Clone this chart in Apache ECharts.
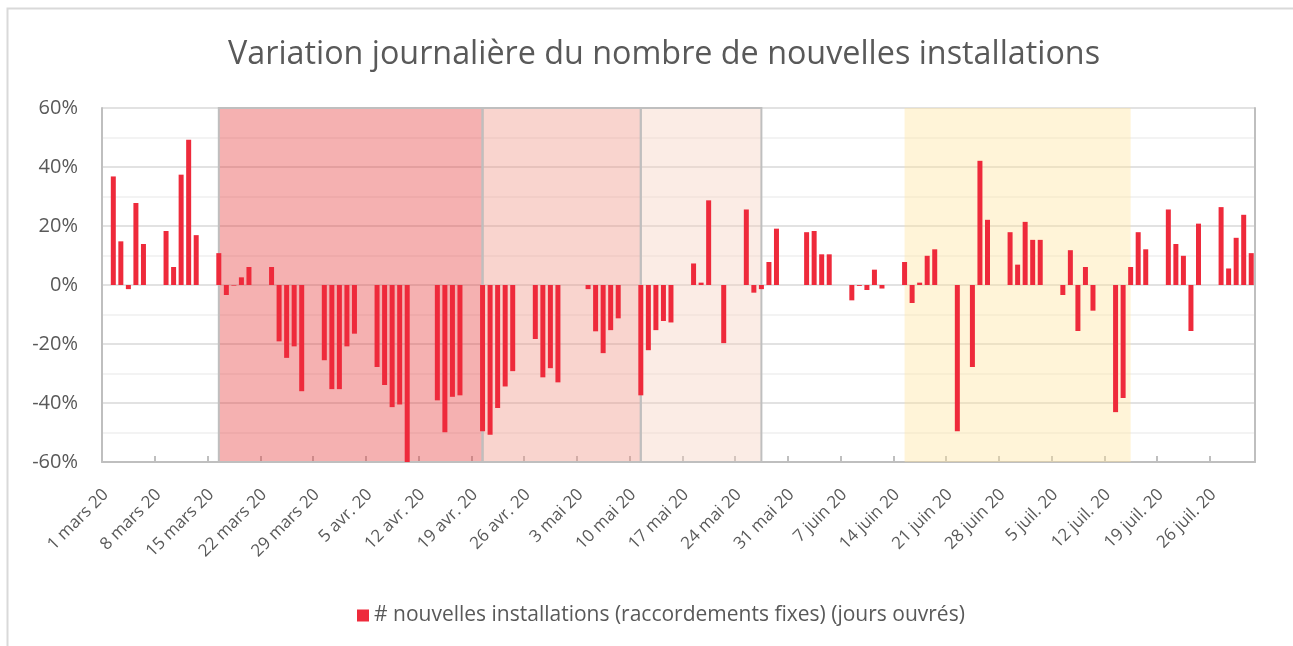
<!DOCTYPE html>
<html>
<head>
<meta charset="utf-8">
<script src="https://cdn.jsdelivr.net/npm/echarts@6/dist/echarts.min.js"></script>
<style>
html,body{margin:0;padding:0;background:#fff;}
#chart{width:1293px;height:646px;}
</style>
</head>
<body>
<div id="chart"></div>
<script>
// Months covered (1 mars 2020 -> 31 juil. 2020)
const monthNames = ['mars', 'avr.', 'mai', 'juin', 'juil.'];
const monthDays = [31, 30, 31, 30, 31];
const yearSuffix = '20';

// Daily variation (%), one row per week: [dim, lun, mar, mer, jeu, ven, sam]; null = no bar
const week01 = [null, 36.8, 14.8, -1.4, 27.8, 13.9, null];     // 1-7 mars
const week02 = [null, 18.3, 6.1, 37.4, 49.2, 16.9, null];      // 8-14 mars
const week03 = [null, 10.8, -3.4, -0.2, 2.6, 6.1, null];       // 15-21 mars
const week04 = [null, 6.1, -19.1, -24.7, -20.8, -36.0, null];  // 22-28 mars
const week05 = [null, -25.5, -35.3, -35.3, -20.8, -16.5, null];// 29 mars-4 avr.
const week06 = [null, -27.8, -33.9, -41.4, -40.5, -60.0, null];// 5-11 avr.
const week07 = [null, null, -39.1, -49.9, -37.9, -37.4, null]; // 12-18 avr.
const week08 = [null, -49.6, -50.8, -41.7, -34.4, -29.2, null];// 19-25 avr.
const week09 = [null, -18.3, -31.3, -28.2, -33.0, null, null]; // 26 avr.-2 mai
const week10 = [null, -1.4, -15.7, -23.1, -15.3, -11.3, null]; // 3-9 mai
const week11 = [null, -37.4, -22.1, -15.3, -12.2, -12.7, null];// 10-16 mai
const week12 = [null, 7.3, 0.8, 28.7, null, -19.7, null];      // 17-23 mai
const week13 = [null, 25.6, -2.6, -1.4, 7.8, 19.1, null];      // 24-30 mai
const week14 = [null, null, 17.9, 18.3, 10.4, 10.4, null];     // 31 mai-6 juin
const week15 = [null, -5.2, -0.3, -1.7, 5.2, -1.2, null];      // 7-13 juin
const week16 = [null, 7.8, -6.1, 0.8, 9.9, 12.1, null];        // 14-20 juin
const week17 = [null, -49.6, null, -27.8, 42.1, 22.1, null];   // 21-27 juin
const week18 = [null, 17.9, 6.9, 21.4, 15.3, 15.3, null];      // 28 juin-4 juil.
const week19 = [null, -3.4, 11.8, -15.6, 6.1, -8.7, null];     // 5-11 juil.
const week20 = [null, -43.1, -38.3, 6.1, 17.9, 12.1, null];    // 12-18 juil.
const week21 = [null, 25.6, 13.9, 9.9, -15.6, 20.8, null];     // 19-25 juil.
const week22 = [null, 26.4, 5.6, 16.0, 23.8, 10.8];            // 26-31 juil.

const yTicks = [-60, -40, -20, 0, 20, 40, 60];
const seriesName = '# nouvelles installations (raccordements fixes) (jours ouvrés)';
const titleText = 'Variation journalière du nombre de nouvelles installations';

// Shaded periods [start, end]
const periods = [
  ['16 mars 20', '20 avr. 20'],
  ['20 avr. 20', '11 mai 20'],
  ['11 mai 20', '27 mai 20'],
  ['15 juin 20', '15 juil. 20']
];

// Build categories
const categories = [];
monthNames.forEach((m, mi) => {
  for (let d = 1; d <= monthDays[mi]; d++) categories.push(d + ' ' + m + ' ' + yearSuffix);
});
const values = [].concat(week01, week02, week03, week04, week05, week06, week07, week08,
  week09, week10, week11, week12, week13, week14, week15, week16, week17, week18,
  week19, week20, week21, week22);

const gray = '#595959';
const font = 'Open Sans';
const areaStyles = [
  {fill: 'rgba(230,60,60,0.4)', stroke: '#BFBFBF', lineWidth: 2},
  {fill: 'rgba(240,147,132,0.4)', stroke: '#BFBFBF', lineWidth: 2},
  {fill: 'rgba(245,207,190,0.4)', stroke: '#BFBFBF', lineWidth: 2},
  {fill: 'rgba(255,227,157,0.4)', stroke: null, lineWidth: 0}
];
const periodData = periods.map((p, i) => [categories.indexOf(p[0]), categories.indexOf(p[1]), i]);

const chart = echarts.init(document.getElementById('chart'), null, {renderer: 'canvas'});
chart.setOption({
  animation: false,
  backgroundColor: '#fff',
  textStyle: {fontFamily: font},
  title: {
    text: titleText,
    left: 659,
    textAlign: 'center',
    top: 34,
    textStyle: {fontFamily: font, fontSize: 32.3, fontWeight: 'normal', color: gray}
  },
  graphic: [{
    type: 'rect', silent: true, z: -10,
    shape: {x: 7.5, y: 8.5, width: 1400, height: 700},
    style: {fill: null, stroke: '#D9D9D9', lineWidth: 2}
  }],
  legend: {
    bottom: 15,
    left: 352,
    icon: 'rect',
    itemWidth: 12,
    itemHeight: 12,
    itemGap: 5,
    textStyle: {fontFamily: font, fontSize: 21, color: gray},
    data: [seriesName]
  },
  grid: {left: 102, right: 38, top: 108, bottom: 184},
  xAxis: {
    type: 'category',
    data: categories,
    boundaryGap: true,
    axisLine: {onZero: false, lineStyle: {color: '#BFBFBF', width: 2}},
    axisTick: {show: true, inside: true, length: 6, interval: 6, lineStyle: {color: '#BFBFBF', width: 2}},
    axisLabel: {interval: 6, rotate: 45, margin: 30, fontSize: 17, color: gray, fontFamily: font},
    splitLine: {show: false}
  },
  yAxis: [{
    type: 'value',
    min: -60, max: 60, interval: 20,
    axisLine: {show: true, lineStyle: {color: '#BFBFBF', width: 2}},
    axisTick: {show: false},
    axisLabel: {formatter: '{value}%', fontSize: 20, color: gray, margin: 24, fontFamily: font},
    splitLine: {show: true, lineStyle: {color: '#D9D9D9', width: 1.5}},
    minorTick: {show: false, splitNumber: 2},
    minorSplitLine: {show: true, lineStyle: {color: '#F0F0F0', width: 1.5}}
  }, {
    type: 'value',
    position: 'right',
    min: -60, max: 60, interval: 20,
    axisLine: {show: true, lineStyle: {color: '#BFBFBF', width: 2}},
    axisTick: {show: false},
    axisLabel: {show: false},
    splitLine: {show: false}
  }],
  series: [{
    name: 'périodes',
    type: 'custom',
    z: 1,
    silent: true,
    clip: false,
    data: periodData,
    encode: {x: [0, 1]},
    renderItem: function (params, api) {
      const p0 = api.coord([api.value(0), 60]);
      const p1 = api.coord([api.value(1), -60]);
      return {
        type: 'rect',
        shape: {x: p0[0], y: p0[1], width: p1[0] - p0[0], height: p1[1] - p0[1]},
        style: areaStyles[api.value(2)]
      };
    }
  }, {
    name: seriesName,
    type: 'bar',
    z: 3,
    data: values,
    barWidth: 5,
    itemStyle: {color: '#EE2A3B'}
  }]
});
</script>
</body>
</html>
